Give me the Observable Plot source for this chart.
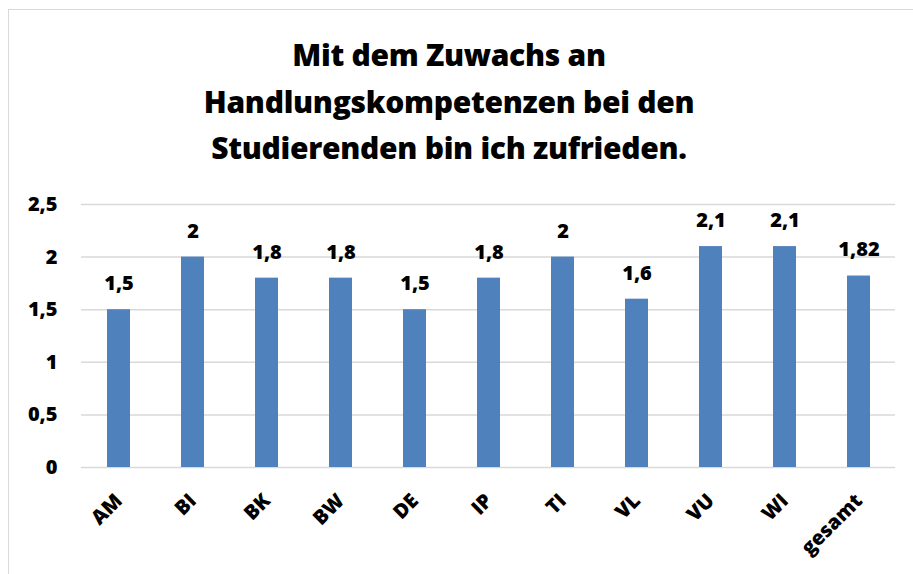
<!DOCTYPE html>
<html>
<head>
<meta charset="utf-8">
<script src="https://cdn.jsdelivr.net/npm/d3@7"></script>
<script src="https://cdn.jsdelivr.net/npm/@observablehq/plot@0.6"></script>
<style>
  html, body { margin: 0; padding: 0; background: #fff; overflow: hidden; }
  #wrap { position: relative; width: 913px; height: 574px; overflow: hidden; font-family: "Open Sans", sans-serif; }
  #frame { position: absolute; left: 8px; top: 9px; width: 940px; height: 620px; border: 1.5px solid #d9d9d9; box-sizing: border-box; }
  #title { position: absolute; left: 99px; width: 700px; top: 32px; text-align: center; font-weight: 800; font-size: 30px; line-height: 46.5px; color: #000; letter-spacing: -0.3px; }
  #chart { position: absolute; left: 0; top: 185px; }
</style>
</head>
<body>
<div id="wrap">
  <div id="frame"></div>
  <div id="title">Mit dem Zuwachs an<br>Handlungskompetenzen bei den<br>Studierenden bin ich zufrieden.</div>
  <div id="chart"></div>
</div>
<script>
const categories = ["AM", "BI", "BK", "BW", "DE", "IP", "TI", "VL", "VU", "WI", "gesamt"];
const values = [1.5, 2, 1.8, 1.8, 1.5, 1.8, 2, 1.6, 2.1, 2.1, 1.82];
const yTicks = [0, 0.5, 1, 1.5, 2, 2.5];

const data = categories.map((c, i) => ({ cat: c, value: values[i] }));
const fmt = v => String(v).replace(".", ",");

const chart = Plot.plot({
  width: 913,
  height: 389,
  marginLeft: 81,
  marginRight: 18,
  marginTop: 19,
  marginBottom: 107,
  style: { fontFamily: "'Open Sans', sans-serif", fontSize: "20px", fontWeight: 800, color: "#000", background: "transparent" },
  x: { domain: categories, paddingInner: 0.69, paddingOuter: 0.345, label: null },
  y: { domain: [0, 2.5], label: null },
  marks: [
    Plot.gridY(yTicks, { stroke: "#d9d9d9", strokeOpacity: 1, strokeWidth: 1.5 }),
    Plot.axisY(yTicks, { tickSize: 0, tickPadding: 24, tickFormat: fmt, fontSize: 20, fontWeight: 800, fill: "#000" }),
    Plot.barY(data, { x: "cat", y: "value", fill: "#4f81bd" }),
    Plot.text(data, { x: "cat", y: "value", text: d => fmt(d.value), dy: -26, fontSize: 20, fontWeight: 800, fill: "#000" }),
    Plot.axisX({ tickSize: 0, tickPadding: 30, tickRotate: -45, fontSize: 20, fontWeight: 800, fill: "#000" })
  ]
});
document.getElementById("chart").appendChild(chart);
</script>
</body>
</html>
